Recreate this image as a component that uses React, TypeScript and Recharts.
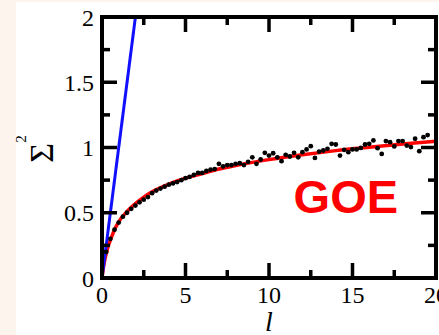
import React from 'react';
import {
  ComposedChart,
  Line,
  Scatter,
  XAxis,
  YAxis,
  ReferenceDot,
} from 'recharts';

// Axis ticks (major ticks carry labels, minor ticks are marks only)
const xTicks = [0, 2.5, 5, 7.5, 10, 12.5, 15, 17.5, 20];
const xMajor = [0, 5, 10, 15, 20];
const yTicks = [0, 0.25, 0.5, 0.75, 1, 1.25, 1.5, 1.75, 2];
const yMajor = [0, 0.5, 1, 1.5, 2];

// Poisson reference: Sigma^2 = l
const poissonL = [0, 2];
const poissonSigma = [0, 2];

// GOE prediction for the number variance
const goeL = [0, 0.05, 0.1, 0.2, 0.3, 0.4, 0.5, 0.75, 1, 1.5, 2, 2.5, 3, 4, 5, 6, 7, 8, 9, 10, 12, 14, 16, 18, 20];
const goeSigma = [0, 0.048, 0.09, 0.16, 0.21, 0.255, 0.29, 0.37, 0.43, 0.51, 0.57, 0.62, 0.66, 0.72, 0.765, 0.8, 0.835, 0.862, 0.886, 0.907, 0.944, 0.976, 1.002, 1.026, 1.048];

// Measured number variance
const dataL = [
  0.25, 0.5, 0.75, 1, 1.25, 1.5, 1.75, 2, 2.25, 2.5, 2.75, 3, 3.25, 3.5, 3.75, 4,
  4.25, 4.5, 4.75, 5, 5.25, 5.5, 5.75, 6, 6.25, 6.5, 6.75, 7, 7.25, 7.5, 7.75, 8,
  8.25, 8.5, 8.75, 9, 9.25, 9.5, 9.75, 10, 10.25, 10.5, 10.75, 11, 11.25, 11.5, 11.75, 12,
  12.25, 12.5, 12.75, 13, 13.25, 13.5, 13.75, 14, 14.25, 14.5, 14.75, 15, 15.25, 15.5, 15.75, 16,
  16.25, 16.5, 16.75, 17, 17.25, 17.5, 17.75, 18, 18.25, 18.5, 18.75, 19, 19.25, 19.5,
];
const dataSigma = [
  0.2, 0.3, 0.37, 0.425, 0.47, 0.5, 0.53, 0.555, 0.58, 0.6, 0.62, 0.65, 0.67, 0.685, 0.7, 0.715,
  0.725, 0.735, 0.75, 0.765, 0.775, 0.79, 0.805, 0.805, 0.82, 0.83, 0.835, 0.875, 0.855, 0.865, 0.865, 0.875,
  0.88, 0.865, 0.89, 0.925, 0.875, 0.908, 0.959, 0.938, 0.956, 0.925, 0.895, 0.944, 0.931, 0.959, 0.925, 0.964,
  0.985, 1.01, 0.92, 0.969, 0.977, 0.99, 1.028, 1.023, 0.938, 0.982, 0.964, 0.985, 0.985, 0.997, 1.023, 1.028,
  1.054, 0.995, 0.951, 1.049, 1.041, 1.008, 1.049, 1.049, 1.015, 1.003, 1.067, 0.972, 1.079, 1.095,
];

const poissonPts = poissonL.map((l, i) => ({ l, s: poissonSigma[i] }));
const goePts = goeL.map((l, i) => ({ l, s: goeSigma[i] }));
const dataPts = dataL.map((l, i) => ({ l, s: dataSigma[i] }));

const SERIF = '"Liberation Serif", "Times New Roman", serif';
const SANS = '"Liberation Sans", Arial, sans-serif';
const MAJOR = 15;
const MINOR = 8;
const TICK_W = 3.5;
const FRAME = { stroke: '#000', strokeWidth: 4, strokeLinecap: 'square' as const };

const fmt = (v: number) => String(v);

const BottomTick = (props: any) => {
  const { x, y, payload } = props;
  const major = xMajor.includes(payload.value);
  return (
    <g>
      <line x1={x} x2={x} y1={y} y2={y - (major ? MAJOR : MINOR)} stroke="#000" strokeWidth={TICK_W} />
      {major && (
        <text x={x} y={y + 25} textAnchor="middle" fontFamily={SERIF} fontSize={24} fill="#000">
          {fmt(payload.value)}
        </text>
      )}
    </g>
  );
};

const TopTick = (props: any) => {
  const { x, y, payload } = props;
  const major = xMajor.includes(payload.value);
  return <line x1={x} x2={x} y1={y} y2={y + (major ? MAJOR : MINOR)} stroke="#000" strokeWidth={TICK_W} />;
};

const LeftTick = (props: any) => {
  const { x, y, payload } = props;
  const major = yMajor.includes(payload.value);
  return (
    <g>
      <line x1={x} x2={x + (major ? MAJOR : MINOR)} y1={y} y2={y} stroke="#000" strokeWidth={TICK_W} />
      {major && (
        <text x={x - 8} y={y} dy="0.36em" textAnchor="end" fontFamily={SERIF} fontSize={24} fill="#000">
          {fmt(payload.value)}
        </text>
      )}
    </g>
  );
};

const RightTick = (props: any) => {
  const { x, y, payload } = props;
  const major = yMajor.includes(payload.value);
  return <line x1={x} x2={x - (major ? MAJOR : MINOR)} y1={y} y2={y} stroke="#000" strokeWidth={TICK_W} />;
};

const SigmaLabel = (props: any) => {
  const vb = props.viewBox || { x: 0, y: 0, width: 0, height: 0 };
  const cx = vb.x + 53;
  const cy = vb.y + vb.height / 2 + 1.5;
  return (
    <text
      x={cx}
      y={cy}
      textAnchor="middle"
      transform={`rotate(-90 ${cx} ${cy})`}
      fontFamily={SERIF}
      fill="#000"
    >
      <tspan fontSize={34}>Σ</tspan>
      <tspan fontSize={15} dy={-27}>2</tspan>
    </text>
  );
};

const GoeLabel = (props: any) => {
  const vb = props.viewBox || { x: 0, y: 0, width: 0, height: 0 };
  return (
    <text
      x={vb.x + vb.width / 2}
      y={vb.y + vb.height / 2}
      textAnchor="middle"
      fontFamily={SANS}
      fontWeight="bold"
      fontSize={47}
      fill="#ff0000"
    >
      GOE
    </text>
  );
};

const Dot = (props: any) => <circle cx={props.cx} cy={props.cy} r={2.4} fill="#000" />;

export default function App() {
  return (
    <div style={{ position: 'absolute', left: 0, top: 0, width: 439, height: 335, background: '#fdf4ee', overflow: 'hidden' }}>
      <div style={{ position: 'absolute', left: 16, top: 2, right: 0, bottom: 0, background: '#ffffff' }} />
      <div style={{ position: 'absolute', left: 0, top: 0 }}>
        <ComposedChart width={439} height={335} margin={{ top: 16, right: 2, bottom: 0, left: 0 }}>
          <XAxis
            xAxisId="b"
            dataKey="l"
            type="number"
            domain={[0, 20]}
            ticks={xTicks}
            interval={0}
            allowDataOverflow
            orientation="bottom"
            height={57}
            tickSize={0}
            tickMargin={0}
            axisLine={FRAME}
            tickLine={false}
            tick={<BottomTick />}
            label={{
              value: 'l',
              position: 'insideBottom',
              offset: 4,
              style: { fontFamily: SERIF, fontStyle: 'italic', fontSize: 28, fill: '#000' },
            }}
          />
          <XAxis
            xAxisId="t"
            dataKey="l"
            type="number"
            domain={[0, 20]}
            ticks={xTicks}
            interval={0}
            allowDataOverflow
            orientation="top"
            height={1}
            tickSize={0}
            tickMargin={0}
            axisLine={FRAME}
            tickLine={false}
            tick={<TopTick />}
          />
          <YAxis
            yAxisId="lft"
            dataKey="s"
            type="number"
            domain={[0, 2]}
            ticks={yTicks}
            interval={0}
            allowDataOverflow
            orientation="left"
            width={102}
            tickSize={0}
            tickMargin={0}
            axisLine={FRAME}
            tickLine={false}
            tick={<LeftTick />}
            label={<SigmaLabel />}
          />
          <YAxis
            yAxisId="rgt"
            dataKey="s"
            type="number"
            domain={[0, 2]}
            ticks={yTicks}
            interval={0}
            allowDataOverflow
            orientation="right"
            width={1}
            tickSize={0}
            tickMargin={0}
            axisLine={FRAME}
            tickLine={false}
            tick={<RightTick />}
          />
          {/* invisible series bound to the mirrored top/right axes */}
          <Line
            xAxisId="t"
            yAxisId="rgt"
            data={poissonPts}
            dataKey="s"
            type="linear"
            stroke="none"
            dot={false}
            activeDot={false}
            legendType="none"
            isAnimationActive={false}
          />
          <Line
            xAxisId="b"
            yAxisId="lft"
            data={goePts}
            dataKey="s"
            type="monotone"
            stroke="#ff0000"
            strokeWidth={3.5}
            dot={false}
            activeDot={false}
            isAnimationActive={false}
          />
          <Scatter
            xAxisId="b"
            yAxisId="lft"
            data={dataPts}
            dataKey="s"
            shape={<Dot />}
            isAnimationActive={false}
          />
          <Line
            xAxisId="b"
            yAxisId="lft"
            data={poissonPts}
            dataKey="s"
            type="linear"
            stroke="#1010ff"
            strokeWidth={3}
            dot={false}
            activeDot={false}
            isAnimationActive={false}
          />
          <ReferenceDot
            xAxisId="b"
            yAxisId="lft"
            x={14.6}
            y={0.5}
            r={1}
            fill="none"
            stroke="none"
            label={<GoeLabel />}
          />
        </ComposedChart>
      </div>
    </div>
  );
}
